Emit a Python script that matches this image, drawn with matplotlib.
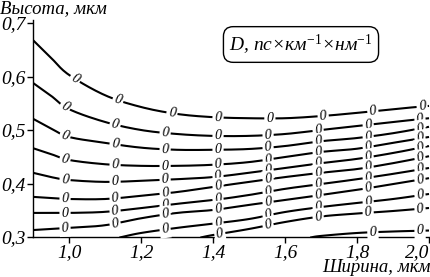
import numpy as np
import matplotlib
matplotlib.use('Agg')
import matplotlib.pyplot as plt

plt.rcParams['font.family'] = ['Liberation Serif', 'DejaVu Serif']
plt.rcParams['mathtext.fontset'] = 'custom'
plt.rcParams['mathtext.rm'] = 'Liberation Serif'
plt.rcParams['mathtext.it'] = 'Liberation Serif:italic'

# ---- data (contour lines of D) ----
x_full = [0.9, 0.95, 1.0, 1.1, 1.2, 1.3, 1.4, 1.5, 1.6, 1.7, 1.8, 1.9, 2.0]
line1_y = [0.668, 0.635, 0.603, 0.565, 0.543, 0.530, 0.524, 0.522, 0.522, 0.526, 0.532, 0.539, 0.545]
line2_y = [0.588, 0.564, 0.539, 0.515, 0.500, 0.4925, 0.489, 0.489, 0.4925, 0.500, 0.5075, 0.515, 0.522]
line3_y = [0.521, 0.503, 0.487, 0.476, 0.467, 0.463, 0.463, 0.4645, 0.470, 0.479, 0.485, 0.494, 0.506]
line4_y = [0.466, 0.455, 0.444, 0.436, 0.433, 0.433, 0.435, 0.440, 0.4495, 0.459, 0.465, 0.476, 0.487]
line5_y = [0.420, 0.412, 0.4065, 0.403, 0.405, 0.408, 0.412, 0.420, 0.429, 0.438, 0.446, 0.457, 0.470]
line6_y = [0.375, 0.373, 0.371, 0.371, 0.377, 0.384, 0.3935, 0.403, 0.412, 0.420, 0.427, 0.438, 0.451]
line7_y = [0.345, 0.345, 0.345, 0.347, 0.354, 0.362, 0.369, 0.3785, 0.390, 0.399, 0.408, 0.418, 0.429]
line8_y = [0.313, 0.315, 0.317, 0.322, 0.335, 0.345, 0.3505, 0.360, 0.369, 0.3785, 0.388, 0.399, 0.410]
line9_x = [1.14, 1.2, 1.3, 1.4, 1.5, 1.6, 1.7, 1.8, 1.9, 2.0]
line9_y = [0.299, 0.3075, 0.317, 0.325, 0.3336, 0.3467, 0.356, 0.3636, 0.371, 0.3804]
line10_x = [1.365, 1.4, 1.5, 1.6, 1.7, 1.8, 1.9, 2.0]
line10_y = [0.299, 0.3037, 0.315, 0.328, 0.3383, 0.3439, 0.3486, 0.3542]
line11_x = [1.67, 1.7, 1.8, 1.9, 2.0]
line11_y = [0.299, 0.302, 0.3075, 0.3103, 0.3121]

label_x_line1 = [1.017, 1.136, 1.286, 1.414, 1.558, 1.706, 1.844, 1.981]
label_x_std = [0.989, 1.128, 1.267, 1.414, 1.553, 1.692, 1.831, 1.975]
label_x_line9 = [1.267, 1.414, 1.553, 1.692, 1.831, 1.975]
label_x_line10 = [1.419, 1.553, 1.692, 1.831, 1.975]
label_x_line11 = [1.844, 1.975]
label_text = '0'

x_ticks = [1.0, 1.2, 1.4, 1.6, 1.8, 2.0]
x_ticklabels = ['1,0', '1,2', '1,4', '1,6', '1,8', '2,0']
y_ticks = [0.3, 0.4, 0.5, 0.6, 0.7]
y_ticklabels = ['0,3', '0,4', '0,5', '0,6', '0,7']

xlabel = 'Ширина, мкм'
ylabel = 'Высота, мкм'
box_text = r'$D$, пс×км$^{\mathit{-1}}$×нм$^{\mathit{-1}}$'

series = [
    (x_full, line1_y, label_x_line1),
    (x_full, line2_y, label_x_std),
    (x_full, line3_y, label_x_std),
    (x_full, line4_y, label_x_std),
    (x_full, line5_y, label_x_std),
    (x_full, line6_y, label_x_std),
    (x_full, line7_y, label_x_std),
    (x_full, line8_y, label_x_std),
    (line9_x, line9_y, label_x_line9),
    (line10_x, line10_y, label_x_line10),
    (line11_x, line11_y, label_x_line11),
]


def smooth(xs, ys, n=12):
    """Catmull-Rom smoothing through the given points (drawing only)."""
    xs = np.asarray(xs, float)
    ys = np.asarray(ys, float)
    px = np.concatenate([[2 * xs[0] - xs[1]], xs, [2 * xs[-1] - xs[-2]]])
    py = np.concatenate([[2 * ys[0] - ys[1]], ys, [2 * ys[-1] - ys[-2]]])
    outx, outy = [], []
    for i in range(1, len(px) - 2):
        t = np.linspace(0, 1, n, endpoint=False)
        for arr, out in ((px, outx), (py, outy)):
            p0, p1, p2, p3 = arr[i - 1], arr[i], arr[i + 1], arr[i + 2]
            out.extend(0.5 * ((2 * p1) + (-p0 + p2) * t +
                              (2 * p0 - 5 * p1 + 4 * p2 - p3) * t ** 2 +
                              (-p0 + 3 * p1 - 3 * p2 + p3) * t ** 3))
    outx.append(xs[-1])
    outy.append(ys[-1])
    return np.array(outx), np.array(outy)


fig = plt.figure(figsize=(4.31, 2.77), dpi=100)
ax = fig.add_axes([33 / 431, 40 / 277, 398 / 431, 217 / 277])
ax.set_xlim(0.9, 0.9 + 398 / 360)
ax.set_ylim(0.3, 0.3 + 217 / 535)

for xs, ys, lxs in series:
    sx, sy = smooth(xs, ys)
    ax.plot(sx, sy, color='black', lw=1.5, solid_capstyle='butt', zorder=2, clip_on=True)
    for lx in lxs:
        ly = np.interp(lx, sx, sy)
        d = 0.01
        slope = (np.interp(lx + d, sx, sy) - np.interp(lx - d, sx, sy)) / (2 * d)
        ang = np.degrees(np.arctan(slope * 535 / 360))
        ax.text(lx, ly, label_text, fontsize=10, style='italic', ha='center', va='center',
                rotation=ang, rotation_mode='anchor', zorder=3,
                bbox=dict(boxstyle='square,pad=0.15', fc='white', ec='none'))

ax.spines['top'].set_visible(False)
ax.spines['right'].set_visible(False)
for s in ('left', 'bottom'):
    ax.spines[s].set_linewidth(1.0)
ax.set_xticks(x_ticks)
ax.set_xticklabels(x_ticklabels, fontsize=14, style='italic')
ax.set_yticks(y_ticks)
ax.set_yticklabels(y_ticklabels, fontsize=14, style='italic')
ax.tick_params(direction='out', length=4, width=1.0, pad=1)
ax.get_xticklabels()[-1].set_horizontalalignment('right')

fig.text(0.0, 1 - 9 / 277, ylabel, fontsize=13.5, style='italic', ha='left', va='center')
fig.text(1.0, 1 - 268 / 277, xlabel, fontsize=13.5, style='italic', ha='right', va='center')
fig.text(301 / 431, 1 - 44.5 / 277, box_text, fontsize=14, style='italic', ha='center', va='center',
         bbox=dict(boxstyle='round,pad=0.3,rounding_size=0.5', fc='white', ec='black', lw=1.0))

fig.savefig('out.png', dpi=100)
